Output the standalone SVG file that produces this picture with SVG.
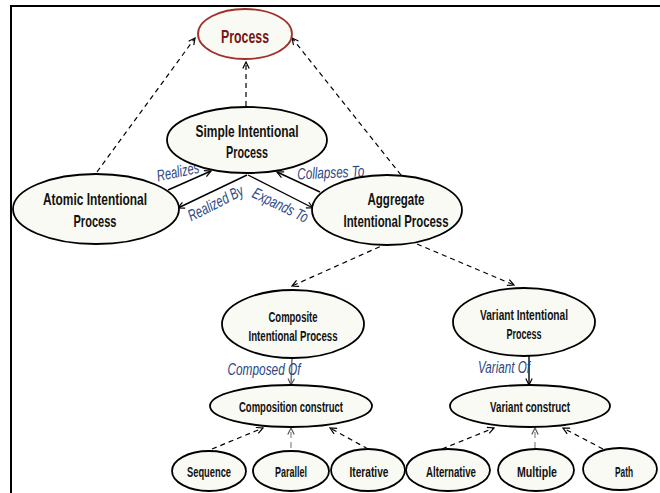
<svg xmlns="http://www.w3.org/2000/svg" width="660" height="493" viewBox="0 0 660 493">
<defs>
<style>
.n{fill:#F8FAF3;stroke:#000;stroke-width:1.8}
.t{font-family:"Liberation Sans Narrow","Liberation Sans",Arial,sans-serif;font-weight:bold;font-size:14px;fill:#111;text-anchor:middle}
.l{font-family:"Liberation Sans Narrow","Liberation Sans",Arial,sans-serif;font-style:italic;font-size:16px;fill:#2A4785;text-anchor:middle}
.d{fill:none;stroke:#000;stroke-width:1.2;stroke-dasharray:5,4}
.dg{fill:none;stroke:#888;stroke-width:1.2;stroke-dasharray:6,4}
.s{fill:none;stroke:#000;stroke-width:1.4}
</style>
<marker id="ah" viewBox="0 0 10 10" refX="9" refY="5" markerWidth="8" markerHeight="8" markerUnits="userSpaceOnUse" orient="auto">
<path d="M1,1 L9,5 L1,9" fill="none" stroke="#000" stroke-width="1.5"/>
</marker>
<marker id="ahg" viewBox="0 0 10 10" refX="9" refY="5" markerWidth="8" markerHeight="8" markerUnits="userSpaceOnUse" orient="auto">
<path d="M1,1 L9,5 L1,9" fill="none" stroke="#555" stroke-width="1.5"/>
</marker>
</defs>
<rect width="660" height="493" fill="#fff"/>
<path d="M11,493 L11,6 L660,6" fill="none" stroke="#000" stroke-width="2"/>

<g id="connectors">
<line class="d" x1="97" y1="172" x2="195" y2="38" marker-end="url(#ah)"/>
<line class="d" x1="246" y1="106" x2="246" y2="62" marker-end="url(#ah)"/>
<line class="d" x1="401" y1="175" x2="292" y2="38" marker-end="url(#ah)"/>
<line class="s" x1="168" y1="190" x2="211" y2="171" marker-end="url(#ah)"/>
<line class="s" x1="247" y1="175" x2="178" y2="208" marker-end="url(#ah)"/>
<line class="s" x1="248" y1="175" x2="313" y2="208" marker-end="url(#ah)"/>
<line class="s" x1="320" y1="192" x2="277" y2="172" marker-end="url(#ah)"/>
<line class="d" x1="388" y1="243" x2="292" y2="286" marker-end="url(#ah)"/>
<line class="d" x1="417" y1="244" x2="514" y2="285" marker-end="url(#ah)"/>
<line x1="292" y1="358" x2="291" y2="385" stroke="#777" stroke-width="1.6" marker-end="url(#ahg)"/>
<line class="s" x1="529" y1="356" x2="529" y2="385" marker-end="url(#ah)"/>
<line class="d" x1="212" y1="449" x2="263" y2="428" marker-end="url(#ah)"/>
<line class="dg" x1="291" y1="448" x2="291" y2="428" marker-end="url(#ahg)"/>
<line class="d" x1="368" y1="449" x2="330" y2="428" marker-end="url(#ah)"/>
<line class="d" x1="442" y1="449" x2="494" y2="428" marker-end="url(#ah)"/>
<line class="dg" x1="535" y1="448" x2="535" y2="428" marker-end="url(#ahg)"/>
<line class="d" x1="603" y1="449" x2="563" y2="428" marker-end="url(#ah)"/>
<text class="l" x="179" y="177" transform="rotate(-12 179 177)" textLength="43" lengthAdjust="spacingAndGlyphs">Realizes</text>
<text class="l" x="218" y="208" transform="rotate(-27 218 208)" textLength="60" lengthAdjust="spacingAndGlyphs">Realized By</text>
<text class="l" x="278" y="210" transform="rotate(26 278 210)" textLength="60" lengthAdjust="spacingAndGlyphs">Expands To</text>
<text class="l" x="331" y="178" transform="rotate(-2.5 331 178)" textLength="67" lengthAdjust="spacingAndGlyphs">Collapses To</text>
<text class="l" x="264" y="375" textLength="73" lengthAdjust="spacingAndGlyphs">Composed Of</text>
<text class="l" x="504" y="373" textLength="52" lengthAdjust="spacingAndGlyphs">Variant Of</text>
</g>

<g id="process">
<ellipse cx="245" cy="34" rx="47" ry="25" fill="#F8FAF3" stroke="#A0302C" stroke-width="1.8"/>
<text class="t" x="245" y="43" style="font-size:19px;fill:#7A1616" textLength="48" lengthAdjust="spacingAndGlyphs">Process</text>
</g>
<g id="simple">
<ellipse class="n" cx="247" cy="140" rx="80" ry="33"/>
<text class="t" x="247" y="137" style="font-size:17px" textLength="103" lengthAdjust="spacingAndGlyphs">Simple Intentional</text>
<text class="t" x="247" y="158" style="font-size:17px" textLength="42" lengthAdjust="spacingAndGlyphs">Process</text>
</g>
<g id="atomic">
<ellipse class="n" cx="96" cy="209" rx="83" ry="35"/>
<text class="t" x="95" y="205" style="font-size:17px" textLength="104" lengthAdjust="spacingAndGlyphs">Atomic Intentional</text>
<text class="t" x="95" y="227" style="font-size:17px" textLength="43" lengthAdjust="spacingAndGlyphs">Process</text>
</g>
<g id="aggregate">
<ellipse class="n" cx="387" cy="210" rx="75" ry="35"/>
<text class="t" x="396" y="205" style="font-size:17px" textLength="57" lengthAdjust="spacingAndGlyphs">Aggregate</text>
<text class="t" x="396" y="227" style="font-size:17px" textLength="105" lengthAdjust="spacingAndGlyphs">Intentional Process</text>
</g>
<g id="composite">
<ellipse class="n" cx="293" cy="324" rx="71" ry="34"/>
<text class="t" x="293" y="322" style="font-size:14.5px" textLength="49" lengthAdjust="spacingAndGlyphs">Composite</text>
<text class="t" x="293" y="341" style="font-size:14.5px" textLength="89" lengthAdjust="spacingAndGlyphs">Intentional Process</text>
</g>
<g id="variant">
<ellipse class="n" cx="524" cy="322" rx="71" ry="34"/>
<text class="t" x="524" y="320" style="font-size:14.5px" textLength="88" lengthAdjust="spacingAndGlyphs">Variant Intentional</text>
<text class="t" x="524" y="339" style="font-size:14.5px" textLength="35" lengthAdjust="spacingAndGlyphs">Process</text>
</g>
<g id="composition-construct">
<ellipse class="n" cx="291" cy="406" rx="81" ry="21"/>
<text class="t" x="291" y="412" style="font-size:14.5px" textLength="104" lengthAdjust="spacingAndGlyphs">Composition construct</text>
</g>
<g id="variant-construct">
<ellipse class="n" cx="530" cy="406" rx="80" ry="21"/>
<text class="t" x="530" y="412" style="font-size:14.5px" textLength="80" lengthAdjust="spacingAndGlyphs">Variant construct</text>
</g>
<g id="sequence">
<ellipse class="n" cx="209" cy="471" rx="37" ry="20"/>
<text class="t" x="209" y="477" style="font-size:14.5px" textLength="44" lengthAdjust="spacingAndGlyphs">Sequence</text>
</g>
<g id="parallel">
<ellipse class="n" cx="291" cy="471" rx="38" ry="20"/>
<text class="t" x="291" y="477" style="font-size:14.5px" textLength="32" lengthAdjust="spacingAndGlyphs">Parallel</text>
</g>
<g id="iterative">
<ellipse class="n" cx="368" cy="470" rx="37" ry="21"/>
<text class="t" x="369" y="477" style="font-size:14.5px" textLength="39" lengthAdjust="spacingAndGlyphs">Iterative</text>
</g>
<g id="alternative">
<ellipse class="n" cx="448" cy="470" rx="42" ry="21"/>
<text class="t" x="451" y="477" style="font-size:14.5px" textLength="50" lengthAdjust="spacingAndGlyphs">Alternative</text>
</g>
<g id="multiple">
<ellipse class="n" cx="536" cy="470" rx="38" ry="21"/>
<text class="t" x="537" y="477" style="font-size:14.5px" textLength="40" lengthAdjust="spacingAndGlyphs">Multiple</text>
</g>
<g id="path">
<ellipse class="n" cx="620" cy="469" rx="37" ry="21"/>
<text class="t" x="624" y="477" style="font-size:14.5px" textLength="18" lengthAdjust="spacingAndGlyphs">Path</text>
</g>
</svg>
